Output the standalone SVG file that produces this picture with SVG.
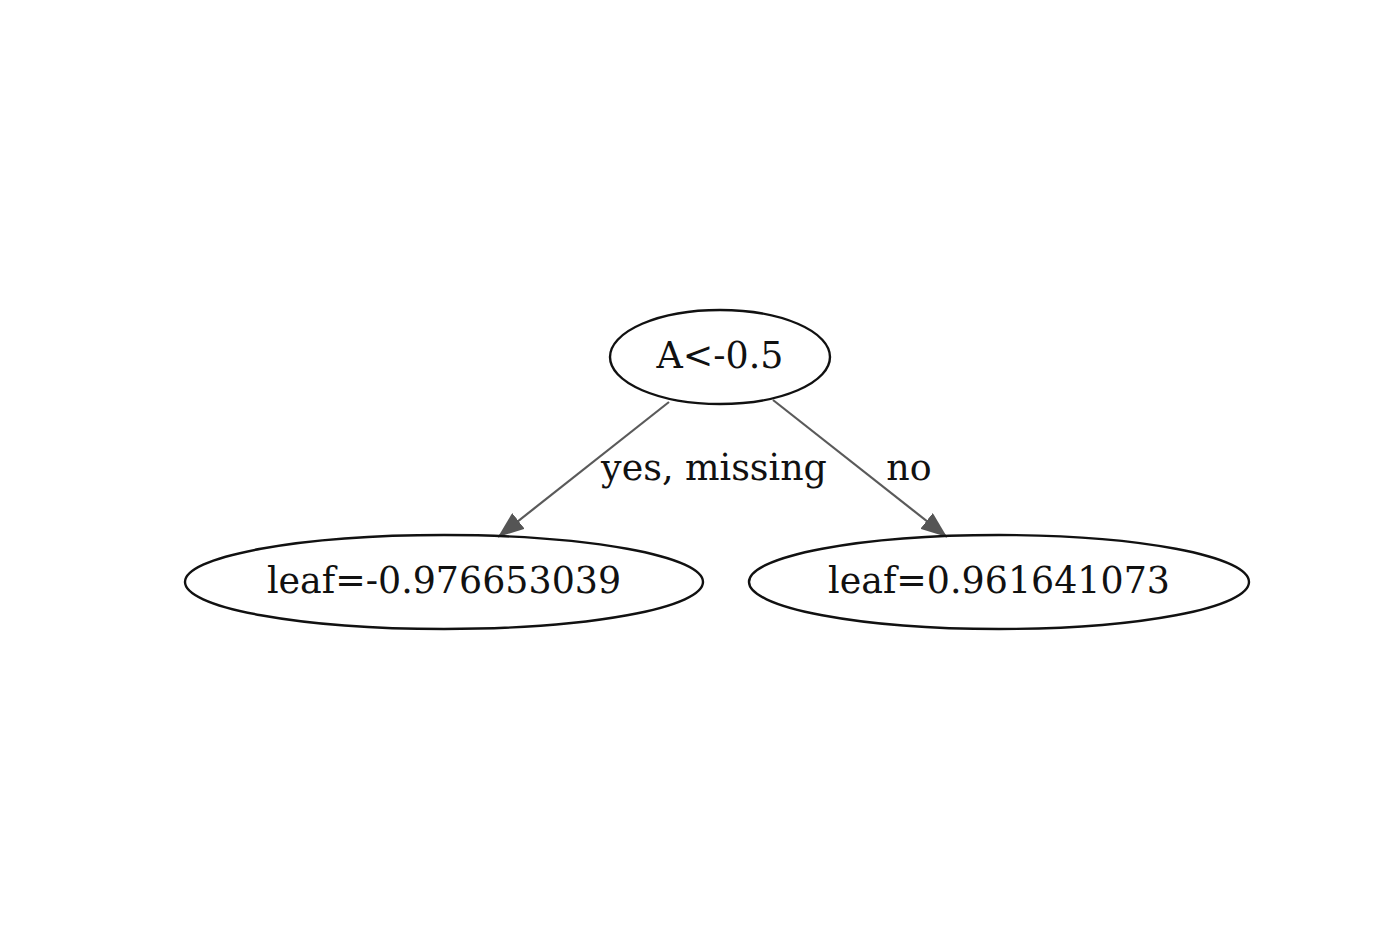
<svg xmlns="http://www.w3.org/2000/svg" width="1400" height="933" viewBox="0 0 1400 933">
<style>
.node ellipse{fill:none;stroke:#111;stroke-width:2.4}
.lbl{font-family:"DejaVu Serif",serif;font-size:36.4px;fill:#111;text-anchor:middle}
.edge{stroke:#5a5a5a;stroke-width:2.2;fill:none}
</style>
<defs>
<marker id="ah" viewBox="0 0 26 20" refX="26" refY="10" markerWidth="26" markerHeight="20" markerUnits="userSpaceOnUse" orient="auto">
<path d="M0,0 L26,10 L0,20 Z" fill="#555"/>
</marker>
</defs>
<rect width="1400" height="933" fill="#fff"/>
<g id="connectors">
<line class="edge" x1="669" y1="402" x2="498" y2="537" marker-end="url(#ah)"/>
<text class="lbl" x="714" y="480">yes, missing</text>
<line class="edge" x1="773" y1="400" x2="947" y2="537" marker-end="url(#ah)"/>
<text class="lbl" x="909" y="480">no</text>
</g>
<g id="node0" class="node">
<ellipse cx="720" cy="357" rx="110" ry="47"/>
<text class="lbl" x="720" y="368">A&lt;-0.5</text>
</g>
<g id="node1" class="node">
<ellipse cx="444" cy="582" rx="259" ry="47"/>
<text class="lbl" x="444" y="593">leaf=-0.976653039</text>
</g>
<g id="node2" class="node">
<ellipse cx="999" cy="582" rx="250" ry="47"/>
<text class="lbl" x="999" y="593">leaf=0.961641073</text>
</g>
</svg>
